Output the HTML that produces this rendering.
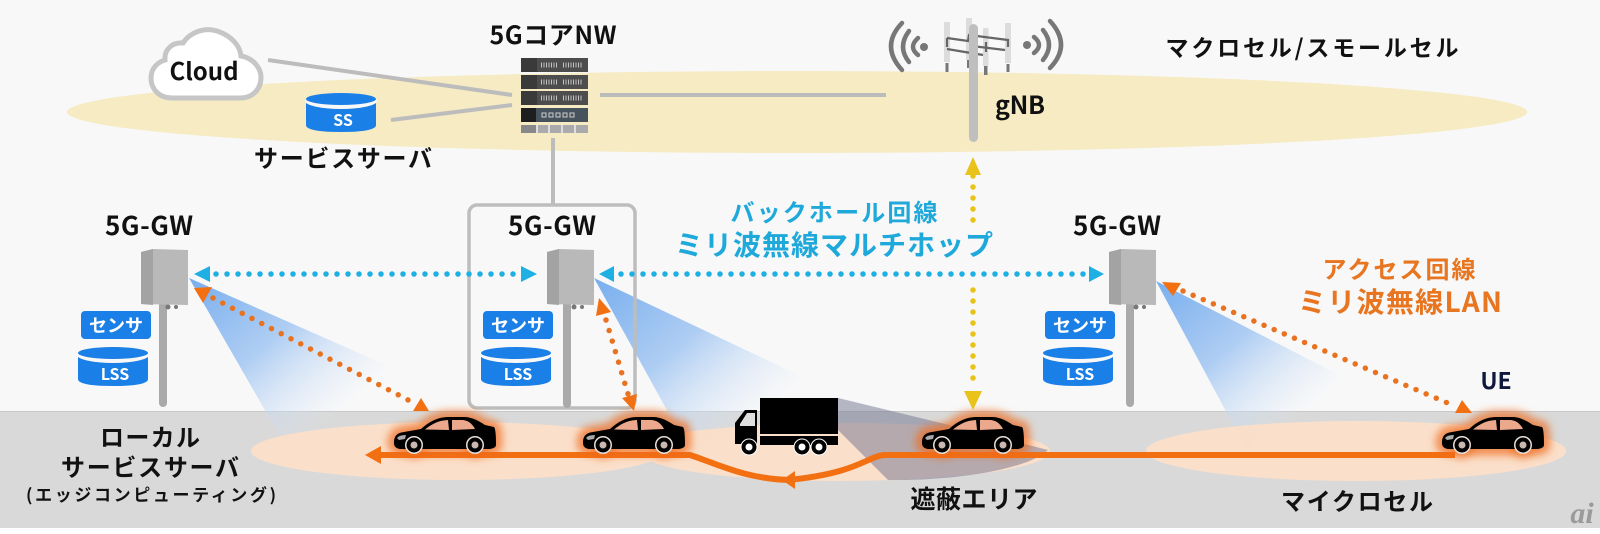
<!DOCTYPE html>
<html lang="ja"><head><meta charset="utf-8"><title>5G diagram</title>
<style>
html,body{margin:0;padding:0;background:#fff}
svg{display:block}
text{font-family:"Noto Sans CJK JP","Liberation Sans",sans-serif;font-weight:700;fill:#111;text-anchor:middle}
</style></head><body>
<svg width="1600" height="534" viewBox="0 0 1600 534" xmlns="http://www.w3.org/2000/svg">
<defs>
<filter id="glow" x="-20%" y="-50%" width="140%" height="200%"><feGaussianBlur stdDeviation="4"/></filter>
<linearGradient id="b1" gradientUnits="userSpaceOnUse" x1="189" y1="278" x2="320" y2="430"><stop offset="0" stop-color="#78aeee"/><stop offset=".5" stop-color="#aecdf3"/><stop offset="1" stop-color="#d8e6f6" stop-opacity="0"/></linearGradient>
<linearGradient id="b2" gradientUnits="userSpaceOnUse" x1="594" y1="278" x2="735" y2="440"><stop offset="0" stop-color="#78aeee"/><stop offset=".5" stop-color="#aecdf3"/><stop offset="1" stop-color="#d8e6f6" stop-opacity="0"/></linearGradient>
<linearGradient id="b3" gradientUnits="userSpaceOnUse" x1="1156" y1="281" x2="1285" y2="430"><stop offset="0" stop-color="#78aeee"/><stop offset=".5" stop-color="#aecdf3"/><stop offset="1" stop-color="#d8e6f6" stop-opacity="0"/></linearGradient>
<path id="carb" d="M0 26C0 20 2 16 10 15L27 12C35 5 43 0 55 0L70 0C78 0 85 4 91 8L100 10Q102 12 102 28Q102 31 96 32L6 32Q0 31 0 26Z"/>
<g id="car">
<use href="#carb" fill="#000"/>
<path d="M31 12.500C38 7 44 3.500 54 3L55 13Z" fill="#eca88c"/>
<path d="M58 3L68 3C73 3 78 6 81 12L58 13Z" fill="#eca88c"/>
<path d="M3 21Q5 18 12 18L11 22L5 23Z" fill="#aaa"/>
<circle cx="20" cy="28" r="9" fill="#eadfd8"/><circle cx="20" cy="28" r="7.500" fill="#000"/><circle cx="20" cy="28" r="3.500" fill="#c8b8b0"/>
<circle cx="81" cy="28" r="9" fill="#eadfd8"/><circle cx="81" cy="28" r="7.500" fill="#000"/><circle cx="81" cy="28" r="3.500" fill="#c8b8b0"/>
</g>
<g id="glowcar" filter="url(#glow)"><use href="#carb" fill="#ef6a1c" stroke="#ef6a1c" stroke-width="13" opacity=".68"/><circle cx="20" cy="28" r="14" fill="#ef6a1c" opacity=".55"/><circle cx="81" cy="28" r="14" fill="#ef6a1c" opacity=".55"/></g>
<g id="gw">
<path d="M0 3L12 0L47 1L47 56L0 55Z" fill="#b9b9b9"/>
<path d="M0 3L12 0L12 56L0 55Z" fill="#a3a3a3"/>
<circle cx="27" cy="58" r="2.500" fill="#777"/><circle cx="35" cy="58" r="2" fill="#777"/>
</g>
<g id="cyl">
<path d="M0 6L0 32Q0 39 35 39Q70 39 70 32L70 6Z" fill="#1a7fe6"/>
<ellipse cx="35" cy="8" rx="36" ry="8" fill="#f8f8f8"/>
<ellipse cx="35" cy="6" rx="35" ry="6" fill="#1a7fe6"/>
</g>
</defs>

<rect width="1600" height="534" fill="#fff"/>
<rect width="1600" height="528" fill="#f8f8f9"/>
<rect y="411" width="1600" height="117" fill="#d9d9d9"/>
<rect y="411" width="1600" height="1" fill="#c8c8c8"/>

<ellipse cx="797" cy="112" rx="730" ry="41" fill="#f6ebc2"/>

<!-- beams -->
<polygon points="189,278 293,459 440,459 420,380" fill="url(#b1)"/>
<polygon points="594,278 700,470 860,470 830,390" fill="url(#b2)"/>
<polygon points="1156,281 1250,456 1410,456 1380,396" fill="url(#b3)"/>

<!-- cells -->
<ellipse cx="458" cy="451" rx="207" ry="29" fill="#fddfc8" fill-opacity=".9"/>
<path d="M640 451C640 432 730 424 850 423C960 423 1050 436 1050 451C1050 469 950 481 840 481C730 481 640 469 640 451Z" fill="#fddfc8" fill-opacity=".9"/>
<ellipse cx="1356" cy="451" rx="210" ry="30" fill="#fddfc8" fill-opacity=".9"/>

<!-- shielded area -->
<path d="M838 398L945 424L1048 450C1030 468 960 481 888 480L838 430Z" fill="#6f748f" fill-opacity=".5"/>

<!-- wires -->
<g stroke="#bcbcbc" stroke-width="4" fill="none">
<line x1="268" y1="60" x2="512" y2="95"/>
<line x1="391" y1="120" x2="512" y2="105"/>
<line x1="600" y1="95" x2="886" y2="95"/>
<line x1="553" y1="138" x2="553" y2="204"/>
</g>
<rect x="469" y="205" width="166" height="203" rx="8" fill="none" stroke="#bdbdbd" stroke-width="3.500"/>

<!-- cloud -->
<path d="M172 98C158 98 151 88 151 78C151 68 158 62 165 60C164 50 172 42 183 43C190 32 205 27 217 31C232 36 240 46 241 56C253 58 261 68 261 77C261 90 252 98 240 98Z" fill="#fff" stroke="#c6c6c6" stroke-width="5"/>
<text x="204" y="80" font-size="24">Cloud</text>

<!-- SS -->
<use href="#cyl" transform="translate(306,93)"/>
<text x="343" y="126" font-size="16" style="fill:#fff">SS</text>
<text x="343" y="167" font-size="24" textLength="178">サービスサーバ</text>

<!-- Server -->
<g>
<rect x="521" y="58" width="67" height="14" fill="#4d4d4d"/><rect x="521" y="58" width="16" height="14" fill="#3a3a3a"/>
<rect x="521" y="75" width="67" height="14" fill="#4d4d4d"/><rect x="521" y="75" width="16" height="14" fill="#3a3a3a"/>
<rect x="521" y="91" width="67" height="14" fill="#4d4d4d"/><rect x="521" y="91" width="16" height="14" fill="#3a3a3a"/>
<rect x="521" y="108" width="67" height="14" fill="#47535c"/><rect x="521" y="108" width="15" height="14" fill="#1e1e1e"/>
<rect x="521" y="125" width="67" height="8" fill="#aaa"/><rect x="521" y="125" width="15" height="8" fill="#888"/>
<g stroke="#c4c4c4" stroke-width="5" stroke-dasharray="1 1.500"><line x1="541" y1="65" x2="558" y2="65"/><line x1="563" y1="65" x2="582" y2="65"/><line x1="541" y1="82" x2="558" y2="82"/><line x1="563" y1="82" x2="582" y2="82"/><line x1="541" y1="98" x2="558" y2="98"/><line x1="563" y1="98" x2="582" y2="98"/></g>
<g fill="none" stroke="#ccc" stroke-width="1"><rect x="542" y="113" width="4" height="4"/><rect x="549" y="113" width="4" height="4"/><rect x="556" y="113" width="4" height="4"/><rect x="563" y="113" width="4" height="4"/><rect x="570" y="113" width="4" height="4"/></g>
<g stroke="#eee" stroke-width="1.500"><line x1="537" y1="125" x2="537" y2="133"/><line x1="549" y1="125" x2="549" y2="133"/><line x1="562" y1="125" x2="562" y2="133"/><line x1="575" y1="125" x2="575" y2="133"/></g>
</g>
<text x="553" y="44" font-size="25" textLength="127">5GコアNW</text>

<!-- gNB -->
<g fill="#dcdcdc"><rect x="944" y="22" width="6" height="40"/><rect x="966" y="18" width="6" height="42"/><rect x="983" y="28" width="5.500" height="38"/><rect x="1005" y="23" width="6" height="40"/></g>
<g fill="#777"><rect x="945.500" y="63" width="3" height="9"/><rect x="967" y="60" width="3.500" height="8"/><rect x="984" y="66" width="3.500" height="9"/><rect x="1006.500" y="64" width="3" height="8"/></g>
<g fill="none" stroke="#666" stroke-width="2.200"><path d="M947 38L968 41L969 35L1008 40L1008 47"/><path d="M947 49L983 55"/><path d="M972 46L1005 50"/><path d="M947 38V47M986 42V52"/></g>
<rect x="969" y="24" width="9" height="118" rx="4.500" fill="#bfbfbf"/>
<g fill="none" stroke="#777" stroke-width="4.500" stroke-linecap="round">
<path d="M902 23Q880 46 902 70"/><path d="M909 31Q897 47 909 62"/><path d="M918 38Q908 47 918 55"/>
<path d="M1050 21Q1072 45 1050 68"/><path d="M1043 30Q1055 45 1043 60"/><path d="M1034 37Q1044 45 1034 53"/>
</g>
<circle cx="924" cy="47" r="4" fill="#777"/><circle cx="1027" cy="45" r="4" fill="#777"/>
<text x="1020" y="114" font-size="25" textLength="50">gNB</text>
<text x="1312" y="56" font-size="23" textLength="293">マクロセル/スモールセル</text>

<!-- Poles and GWs -->
<g fill="#aaa"><rect x="159" y="300" width="8" height="107" rx="4"/><rect x="563" y="300" width="8" height="108" rx="4"/><rect x="1126" y="300" width="8" height="107" rx="4"/></g>
<use href="#gw" transform="translate(141,249)"/>
<use href="#gw" transform="translate(547,249)"/>
<use href="#gw" transform="translate(1109,249)"/>
<text x="149" y="235" font-size="26" textLength="88">5G-GW</text>
<text x="552" y="235" font-size="26" textLength="88">5G-GW</text>
<text x="1117" y="235" font-size="26" textLength="88">5G-GW</text>

<!-- sensors -->
<g fill="#1a7fe6"><rect x="81" y="311" width="70" height="28" rx="4"/><rect x="483" y="311" width="70" height="28" rx="4"/><rect x="1045" y="311" width="70" height="28" rx="4"/></g>
<g font-size="18"><text x="116" y="332" style="fill:#fff">センサ</text><text x="518" y="332" style="fill:#fff">センサ</text><text x="1080" y="332" style="fill:#fff">センサ</text></g>
<use href="#cyl" transform="translate(78,347)"/><use href="#cyl" transform="translate(481,347)"/><use href="#cyl" transform="translate(1043,347)"/>
<g font-size="16"><text x="115" y="380" style="fill:#fff">LSS</text><text x="518" y="380" style="fill:#fff">LSS</text><text x="1080" y="380" style="fill:#fff">LSS</text></g>

<!-- road -->
<g fill="none" stroke="#f26f12" stroke-width="6">
<path d="M1455 455H884C866 457 858 473 788 480"/>
<path d="M790 480C745 479 715 463 690 455H378"/>
</g>
<polygon points="365,455 381,446 381,464" fill="#f26f12"/>
<polygon points="782,480 795,471 795,489" fill="#f26f12"/>

<!-- truck -->
<g>
<rect x="760" y="398" width="78" height="36"/><rect x="760" y="436" width="78" height="9"/>
<path d="M735 423L745 410H757V444H735Z"/><path d="M740 424L747 413H755V426H740Z" fill="#dfdfdf"/>
<g><circle cx="749" cy="447" r="8" fill="#000" stroke="#fff" stroke-width="1"/><circle cx="749" cy="447" r="3.500" fill="#fff"/><circle cx="802" cy="447" r="8" fill="#000" stroke="#fff" stroke-width="1"/><circle cx="802" cy="447" r="3.500" fill="#fff"/><circle cx="819" cy="447" r="8" fill="#000" stroke="#fff" stroke-width="1"/><circle cx="819" cy="447" r="3.500" fill="#fff"/></g>
</g>

<!-- cars -->
<use href="#glowcar" transform="translate(394,417)"/><use href="#car" transform="translate(394,417)"/>
<use href="#glowcar" transform="translate(583,417)"/><use href="#car" transform="translate(583,417)"/>
<use href="#glowcar" transform="translate(922,417)"/><use href="#car" transform="translate(922,417)"/>
<use href="#glowcar" transform="translate(1442,417)"/><use href="#car" transform="translate(1442,417)"/>

<!-- blue arrows -->
<g fill="none" stroke="#1fb0e3" stroke-width="5.500" stroke-linecap="round" stroke-dasharray="0 11">
<line x1="216" y1="274" x2="522" y2="274"/>
<line x1="621" y1="274" x2="1090" y2="274"/>
</g>
<g fill="#1fb0e3">
<polygon points="194,274 210,266 210,282"/><polygon points="537,274 521,266 521,282"/>
<polygon points="599,274 614,266 614,282"/><polygon points="1104,274 1089,266 1089,282"/>
</g>
<!-- orange arrows -->
<g fill="none" stroke="#e8721f" stroke-width="5.500" stroke-linecap="round" stroke-dasharray="0 11">
<line x1="213" y1="298" x2="412" y2="402"/>
<line x1="606" y1="320" x2="628" y2="394"/>
<line x1="1183" y1="291" x2="1450" y2="404"/>
</g>
<g fill="#f26f12">
<polygon points="194,288 212,287 203,303"/><polygon points="429,411 413,411 421,398"/>
<polygon points="599,298 611,312 596,316"/><polygon points="634,411 622,398 637,394"/>
<polygon points="1162,282 1181,283 1173,296"/><polygon points="1472,413 1455,413 1462,400"/>
</g>
<!-- yellow arrow -->
<g fill="none" stroke="#e9c21a" stroke-width="5.500" stroke-linecap="round" stroke-dasharray="0 11">
<line x1="973" y1="176" x2="973" y2="230"/>
<line x1="973" y1="290" x2="973" y2="384"/>
</g>
<polygon points="973,157 965,175 981,175" fill="#e9c21a"/>
<polygon points="973,410 964,391 982,391" fill="#e9c21a"/>

<!-- labels -->
<text x="834" y="221" font-size="24" style="fill:#1fa9da" textLength="207">バックホール回線</text>
<text x="834" y="255" font-size="28" style="fill:#1fa9da" textLength="318">ミリ波無線マルチホップ</text>
<text x="1399" y="278" font-size="24" style="fill:#e8751f" textLength="153">アクセス回線</text>
<text x="1400" y="312" font-size="28" style="fill:#e8751f" textLength="204">ミリ波無線LAN</text>
<text x="1496" y="389" font-size="23" style="fill:#10183c">UE</text>
<text x="1357" y="510" font-size="24" textLength="152">マイクロセル</text>
<text x="974" y="508" font-size="25" textLength="127">遮蔽エリア</text>
<text x="150" y="446" font-size="24" textLength="100">ローカル</text>
<text x="150" y="476" font-size="24" textLength="178">サービスサーバ</text>
<text x="151" y="501" font-size="17" textLength="250">(エッジコンピューティング)</text>
<text x="1582" y="523" font-size="30" style="font-family:'Liberation Serif',serif;font-style:italic;font-weight:700;fill:#9a9a9a">ai</text>
</svg>
</body></html>
